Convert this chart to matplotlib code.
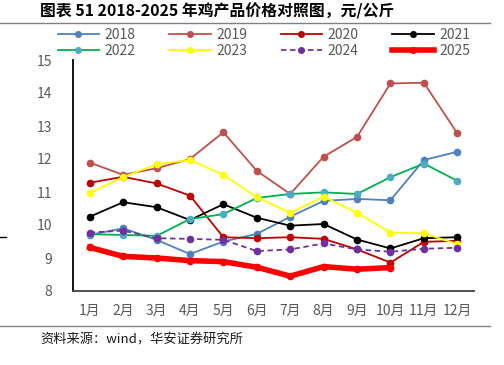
import matplotlib
matplotlib.use("Agg")
import matplotlib.pyplot as plt
from matplotlib.lines import Line2D

plt.rcParams['font.family'] = ['Noto Sans CJK SC', 'DejaVu Sans']

months = ['1月', '2月', '3月', '4月', '5月', '6月', '7月', '8月', '9月', '10月', '11月', '12月']
y2018 = [9.70, 9.90, 9.55, 9.12, 9.50, 9.73, 10.25, 10.73, 10.79, 10.75, 11.97, 12.22]
y2019 = [11.89, 11.52, 11.72, 12.00, 12.81, 11.64, 10.94, 12.07, 12.67, 14.29, 14.31, 12.78]
y2020 = [11.28, 11.46, 11.26, 10.89, 9.63, 9.60, 9.63, 9.58, 9.26, 8.86, 9.49, 9.52]
y2021 = [10.25, 10.69, 10.54, 10.15, 10.63, 10.22, 9.98, 10.03, 9.56, 9.29, 9.60, 9.63]
y2022 = [9.72, 9.70, 9.67, 10.18, 10.33, 10.82, 10.94, 10.99, 10.94, 11.45, 11.86, 11.34]
y2023 = [10.97, 11.45, 11.84, 11.97, 11.52, 10.84, 10.37, 10.86, 10.37, 9.77, 9.75, 9.42]
y2024 = [9.77, 9.83, 9.60, 9.58, 9.55, 9.21, 9.26, 9.44, 9.26, 9.19, 9.28, 9.31]
y2025 = [9.32, 9.05, 9.00, 8.92, 8.89, 8.72, 8.45, 8.74, 8.66, 8.71]

fig = plt.figure(figsize=(5.04, 3.65), dpi=100)
ax = fig.add_axes([73/504, 1-291/365, (474-73)/504, (291-60)/365])

x = list(range(12))
lw = 1.3
ms = 4.5
ax.plot(x, y2018, color='#4F81BD', lw=lw, marker='o', ms=ms, label='2018', zorder=3)
ax.plot(x, y2019, color='#C0504D', lw=lw, marker='o', ms=ms, label='2019', zorder=3)
ax.plot(x, y2020, color='#C00000', lw=lw, marker='o', ms=ms, label='2020', zorder=3)
ax.plot(x, y2021, color='#000000', lw=lw, marker='o', ms=ms, label='2021', zorder=3)
ax.plot(x, y2022, color='#00B050', lw=lw, marker='o', ms=ms, mfc='#4BACC6', mec='#4BACC6', label='2022', zorder=3)
ax.plot(x, y2023, color='#FFFF00', lw=lw, marker='o', ms=ms, label='2023', zorder=3)
ax.plot(x, y2024, color='#7030A0', lw=lw, ls=(0, (3, 2)), marker='o', ms=ms, label='2024', zorder=3)
ax.plot(range(len(y2025)), y2025, color='#FF0000', lw=4.0, marker='o', ms=ms, label='2025', zorder=4)

ax.set_xlim(-0.5, 11.5)
ax.set_ylim(8, 15)
ax.set_yticks(range(8, 16))
ax.set_xticks(x)
ax.set_xticklabels(months)
for s in ['top', 'right']:
    ax.spines[s].set_visible(False)
ax.spines['left'].set_color('black')
ax.spines['left'].set_linewidth(1.3)
ax.spines['bottom'].set_color('#404040')
ax.spines['bottom'].set_linewidth(1.3)
ax.tick_params(axis='both', length=0, labelsize=10, colors='#595959')
ax.tick_params(axis='y', pad=15)
ax.tick_params(axis='x', pad=9)

handles, labels = ax.get_legend_handles_labels()
order = [0, 4, 1, 5, 2, 6, 3, 7]
leg = fig.legend([handles[i] for i in order], [labels[i] for i in order], ncol=4,
                 loc='center', bbox_to_anchor=(264/504, 1-43/365),
                 frameon=False, fontsize=10, handlelength=3.0, columnspacing=2.4,
                 handletextpad=0.4, labelspacing=0.15, borderpad=0, markerscale=0.9)
for t in leg.get_texts():
    t.set_color('#595959')

fig.text(40/504, 1-11/365, '图表 51 2018-2025 年鸡产品价格对照图，元/公斤', fontsize=11.4,
         fontweight='bold', va='center', ha='left')
fig.add_artist(Line2D([0, 490/504], [1-23/365, 1-23/365], color='#808080', lw=1))
fig.add_artist(Line2D([0, 490/504], [1-326/365, 1-326/365], color='#808080', lw=1))
fig.add_artist(Line2D([0, 6/504], [1-237/365, 1-237/365], color='black', lw=1))
fig.text(40/504, 1-340/365, '资料来源：wind，华安证券研究所', fontsize=9.5, va='center', ha='left', color='#1a1a1a')

fig.savefig('out.png', dpi=100)
